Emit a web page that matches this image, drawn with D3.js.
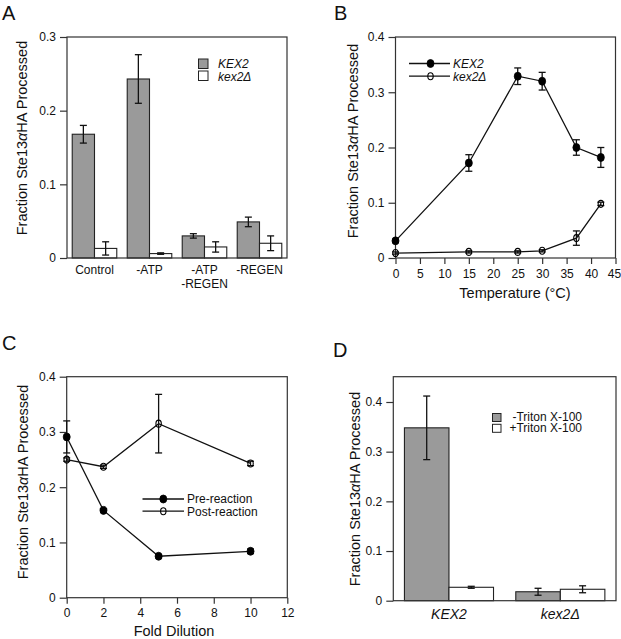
<!DOCTYPE html>
<html>
<head>
<meta charset="utf-8">
<script src="https://cdn.jsdelivr.net/npm/d3@7"></script>
<style>
  html, body { margin: 0; padding: 0; background: #fff; }
  svg { display: block; font-family: "Liberation Sans", Arial, Helvetica, sans-serif; }
</style>
</head>
<body>
<svg id="chart" width="621" height="639"></svg>
<script>
// ---- Panel A data ----
const aCategories = [["Control"], ["-ATP"], ["-ATP", "-REGEN"], ["-REGEN"]];
const aKex2 = [0.168, 0.243, 0.030, 0.049];
const aKex2Err = [0.012, 0.033, 0.003, 0.0065];
const aDelta = [0.013, 0.006, 0.015, 0.020];
const aDeltaErr = [0.009, 0.001, 0.007, 0.010];
const aYTicks = [0, 0.1, 0.2, 0.3];

// ---- Panel B data ----
const bTemps = [0, 15, 25, 30, 37, 42];
const bKex2 = [0.031, 0.172, 0.329, 0.320, 0.200, 0.182];
const bKex2Err = [0.003, 0.015, 0.015, 0.016, 0.014, 0.018];
const bDelta = [0.009, 0.011, 0.011, 0.013, 0.036, 0.098];
const bDeltaErr = [0.002, 0.002, 0.002, 0.002, 0.013, 0.003];
const bXTicks = [0, 5, 10, 15, 20, 25, 30, 35, 40, 45];
const bYTicks = [0, 0.1, 0.2, 0.3, 0.4];

// ---- Panel C data ----
const cDilution = [0, 2, 5, 10];
const cPre = [0.291, 0.158, 0.075, 0.084];
const cPreErr = [0.029, 0.003, 0.003, 0.004];
const cPost = [0.250, 0.237, 0.315, 0.243];
const cPostErr = [0.003, 0.003, 0.053, 0.004];
const cXTicks = [0, 2, 4, 6, 8, 10, 12];
const cYTicks = [0, 0.1, 0.2, 0.3, 0.4];

// ---- Panel D data ----
const dGroups = ["KEX2", "kex2Δ"];
const dMinus = [0.348, 0.018];
const dMinusErr = [0.064, 0.007];
const dPlus = [0.027, 0.023];
const dPlusErr = [0.002, 0.007];
const dYTicks = [0, 0.1, 0.2, 0.3, 0.4];

const svg = d3.select("#chart");
const GRAY = "#9a9a9a";
const AX = "#333";
const fmt = d => d === 0 ? "0" : d3.format(".1f")(d);

function frame(g, x0, x1, y0, y1) {
  g.append("rect").attr("x", x0).attr("y", y0).attr("width", x1 - x0).attr("height", y1 - y0)
    .attr("fill", "none").attr("stroke", AX).attr("stroke-width", 1.2);
}
function yAxis(g, y, x0, ticks) {
  const ax = g.append("g").attr("transform", `translate(${x0},0)`)
    .call(d3.axisLeft(y).tickValues(ticks).tickFormat(fmt).tickSize(7).tickPadding(4));
  ax.select(".domain").remove();
  ax.selectAll("line").attr("stroke", AX).attr("stroke-width", 1.2);
  ax.selectAll("text").attr("font-size", 12).attr("fill", "#111").attr("font-family", null);
}
function xAxis(g, x, y0, ticks) {
  const ax = g.append("g").attr("transform", `translate(0,${y0})`)
    .call(d3.axisBottom(x).tickValues(ticks).tickSize(6).tickPadding(5));
  ax.select(".domain").remove();
  ax.selectAll("line").attr("stroke", AX).attr("stroke-width", 1.2);
  ax.selectAll("text").attr("font-size", 12).attr("fill", "#111").attr("font-family", null);
  return ax;
}
function yTitle(g, x, y) {
  const t = g.append("text").attr("transform", `translate(${x},${y}) rotate(-90)`)
    .attr("text-anchor", "middle").attr("font-size", 14.5).attr("fill", "#111");
  t.append("tspan").text("Fraction Ste13");
  t.append("tspan").attr("font-style", "italic").text("α");
  t.append("tspan").text("HA Processed");
}
function panelLabel(x, y, s) {
  svg.append("text").attr("x", x).attr("y", y).attr("font-size", 20).attr("fill", "#111").text(s);
}
function errBar(g, cx, yScale, v, e, cap) {
  g.append("line").attr("x1", cx).attr("x2", cx).attr("y1", yScale(v - e)).attr("y2", yScale(v + e))
    .attr("stroke", "#111").attr("stroke-width", 1.3);
  [v - e, v + e].forEach(val => {
    g.append("line").attr("x1", cx - cap).attr("x2", cx + cap).attr("y1", yScale(val)).attr("y2", yScale(val))
      .attr("stroke", "#111").attr("stroke-width", 1.3);
  });
}
function marker(g, cx, cy, filled) {
  if (filled) {
    g.append("ellipse").attr("cx", cx).attr("cy", cy).attr("rx", 3.5).attr("ry", 4)
      .attr("fill", "#000").attr("stroke", "#000").attr("stroke-width", 0.8);
  } else {
    g.append("ellipse").attr("cx", cx).attr("cy", cy).attr("rx", 2.7).attr("ry", 3.5)
      .attr("fill", "none").attr("stroke", "#000").attr("stroke-width", 1.1);
  }
}

// ================= Panel A =================
(function () {
  const g = svg.append("g");
  const L = 67, R = 287, T = 37, B = 258;
  const y = d3.scaleLinear().domain([0, 0.3]).range([B, T]);
  const x0 = d3.scaleBand().domain(d3.range(aCategories.length)).range([L, R]).paddingInner(0.19).paddingOuter(0.095);
  const x1 = d3.scaleBand().domain([0, 1]).range([0, x0.bandwidth()]);
  const series = [[aKex2, aKex2Err, GRAY], [aDelta, aDeltaErr, "#fff"]];
  aCategories.forEach((c, i) => {
    series.forEach((s, j) => {
      const bx = x0(i) + x1(j);
      g.append("rect").attr("x", bx).attr("y", y(s[0][i])).attr("width", x1.bandwidth())
        .attr("height", B - y(s[0][i])).attr("fill", s[2]).attr("stroke", "#222").attr("stroke-width", 1.1);
      errBar(g, bx + x1.bandwidth() / 2, y, s[0][i], s[1][i], 3.5);
    });
    c.forEach((line, k) => {
      g.append("text").attr("x", x0(i) + x0.bandwidth() / 2).attr("y", 274 + k * 13.5)
        .attr("text-anchor", "middle").attr("font-size", 12).attr("fill", "#111").text(line);
    });
  });
  frame(g, L, R, T, B);
  yAxis(g, y, L, aYTicks);
  yTitle(g, 26.5, 138);
  // legend
  [["KEX2", GRAY], ["kex2Δ", "#fff"]].forEach((d, i) => {
    g.append("rect").attr("x", 198.5).attr("y", 59 + i * 12).attr("width", 9.5).attr("height", 9.5)
      .attr("fill", d[1]).attr("stroke", "#222").attr("stroke-width", 1);
    g.append("text").attr("x", 218).attr("y", 68 + i * 12.5).attr("font-size", 12)
      .attr("font-style", "italic").attr("fill", "#111").text(d[0]);
  });
  panelLabel(2, 20, "A");
})();

// ================= Panel B =================
(function () {
  const g = svg.append("g");
  const L = 395.5, R = 615.5, T = 37, B = 258;
  const x = d3.scaleLinear().domain([0, 45]).range([L, R]);
  const y = d3.scaleLinear().domain([0, 0.4]).range([B, T]);
  frame(g, L, R, T, B);
  yAxis(g, y, L, bYTicks);
  const xa = xAxis(g, x, B, bXTicks);
  xa.selectAll("text").filter(d => d === 45).attr("dx", -1.5);
  const line = d3.line().x(d => x(d[0])).y(d => y(d[1]));
  [[bKex2, bKex2Err, true], [bDelta, bDeltaErr, false]].forEach(s => {
    g.append("path").attr("d", line(bTemps.map((t, i) => [t, s[0][i]])))
      .attr("fill", "none").attr("stroke", "#111").attr("stroke-width", 1.3);
    bTemps.forEach((t, i) => errBar(g, x(t), y, s[0][i], s[1][i], 3.5));
    bTemps.forEach((t, i) => marker(g, x(t), y(s[0][i]), s[2]));
  });
  yTitle(g, 358, 141);
  g.append("text").attr("x", 515).attr("y", 298).attr("text-anchor", "middle")
    .attr("font-size", 14.5).attr("fill", "#111").text("Temperature (°C)");
  [["KEX2", true], ["kex2Δ", false]].forEach((d, i) => {
    const ly = 63.5 + i * 12.7;
    g.append("line").attr("x1", 409).attr("x2", 450).attr("y1", ly).attr("y2", ly)
      .attr("stroke", "#111").attr("stroke-width", 1.3);
    marker(g, 430.5, ly, d[1]);
    g.append("text").attr("x", 453).attr("y", ly + 4.3).attr("font-size", 12)
      .attr("font-style", "italic").attr("fill", "#111").text(d[0]);
  });
  panelLabel(334, 20, "B");
})();

// ================= Panel C =================
(function () {
  const g = svg.append("g");
  const L = 66.7, R = 287.3, T = 376.7, B = 597.7;
  const x = d3.scaleLinear().domain([0, 12]).range([L, R]);
  const y = d3.scaleLinear().domain([0, 0.4]).range([B, T]);
  frame(g, L, R, T, B);
  yAxis(g, y, L, cYTicks);
  xAxis(g, x, B, cXTicks);
  const line = d3.line().x(d => x(d[0])).y(d => y(d[1]));
  [[cPre, cPreErr, true], [cPost, cPostErr, false]].forEach(s => {
    g.append("path").attr("d", line(cDilution.map((t, i) => [t, s[0][i]])))
      .attr("fill", "none").attr("stroke", "#111").attr("stroke-width", 1.3);
    cDilution.forEach((t, i) => errBar(g, x(t), y, s[0][i], s[1][i], 3.5));
    cDilution.forEach((t, i) => marker(g, x(t), y(s[0][i]), s[2]));
  });
  yTitle(g, 28, 482);
  g.append("text").attr("x", 174).attr("y", 636).attr("text-anchor", "middle")
    .attr("font-size", 14.5).attr("fill", "#111").text("Fold Dilution");
  [["Pre-reaction", true], ["Post-reaction", false]].forEach((d, i) => {
    const ly = 499 + i * 12.2;
    g.append("line").attr("x1", 142.5).attr("x2", 184).attr("y1", ly).attr("y2", ly)
      .attr("stroke", "#111").attr("stroke-width", 1.3);
    marker(g, 163.3, ly, d[1]);
    g.append("text").attr("x", 187).attr("y", ly + 4.3).attr("font-size", 12)
      .attr("fill", "#111").text(d[0]);
  });
  panelLabel(2, 350, "C");
})();

// ================= Panel D =================
(function () {
  const g = svg.append("g");
  const L = 393.3, R = 616, T = 376.7, B = 600.7;
  const y = d3.scaleLinear().domain([0, 0.4]).range([B, 402]);
  const x0 = d3.scaleBand().domain(d3.range(dGroups.length)).range([L, R]).paddingInner(0.2).paddingOuter(0.1);
  const x1 = d3.scaleBand().domain([0, 1]).range([0, x0.bandwidth()]);
  const series = [[dMinus, dMinusErr, GRAY], [dPlus, dPlusErr, "#fff"]];
  dGroups.forEach((c, i) => {
    series.forEach((s, j) => {
      const bx = x0(i) + x1(j);
      g.append("rect").attr("x", bx).attr("y", y(s[0][i])).attr("width", x1.bandwidth())
        .attr("height", B - y(s[0][i])).attr("fill", s[2]).attr("stroke", "#222").attr("stroke-width", 1.1);
      errBar(g, bx + x1.bandwidth() / 2, y, s[0][i], s[1][i], 3.5);
    });
    g.append("text").attr("x", x0(i) + x0.bandwidth() / 2).attr("y", 619)
      .attr("text-anchor", "middle").attr("font-size", 14).attr("font-style", "italic")
      .attr("fill", "#111").text(c);
  });
  frame(g, L, R, T, B);
  yAxis(g, y, L, dYTicks);
  yTitle(g, 360, 489);
  [["-Triton X-100", GRAY], ["+Triton X-100", "#fff"]].forEach((d, i) => {
    g.append("rect").attr("x", 492.5).attr("y", 413.5 + i * 10.8).attr("width", 8.5).attr("height", 8)
      .attr("fill", d[1]).attr("stroke", "#222").attr("stroke-width", 1);
    g.append("text").attr("x", 582).attr("y", 420.5 + i * 11.3).attr("text-anchor", "end")
      .attr("font-size", 12).attr("fill", "#111").text(d[0]);
  });
  panelLabel(333, 357, "D");
})();
</script>
</body>
</html>
